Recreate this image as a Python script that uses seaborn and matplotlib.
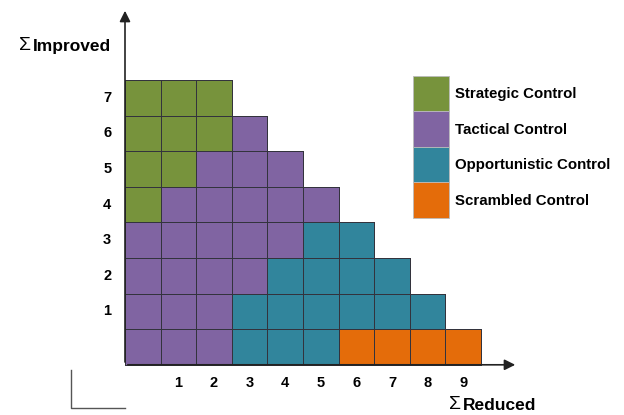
import numpy as np
import matplotlib
matplotlib.use("Agg")
import matplotlib.pyplot as plt
from matplotlib.colors import ListedColormap, to_rgba
from matplotlib.patches import Patch
import seaborn as sns

# rows from top (Improved = 7) to bottom (Improved = 0)
improved = [7, 6, 5, 4, 3, 2, 1, 0]
strategic = [3, 3, 2, 1, 0, 0, 0, 0]
tactical = [0, 1, 3, 5, 5, 4, 3, 3]
opportunistic = [0, 0, 0, 0, 2, 4, 6, 3]
scrambled = [0, 0, 0, 0, 0, 0, 0, 4]
reduced_ticks = [1, 2, 3, 4, 5, 6, 7, 8, 9]
improved_ticks = [1, 2, 3, 4, 5, 6, 7]
categories = ["Strategic Control", "Tactical Control",
              "Opportunistic Control", "Scrambled Control"]
colors = ["#77933C", "#8064A2", "#31859C", "#E46C0A"]

ncols = 10
grid = np.full((len(improved), ncols), np.nan)
for i in range(len(improved)):
    row = ([0] * strategic[i] + [1] * tactical[i]
           + [2] * opportunistic[i] + [3] * scrambled[i])
    grid[i, :len(row)] = row
empty = np.isnan(grid)

plt.rcParams['font.family'] = ['Liberation Sans', 'DejaVu Sans']

fig = plt.figure(figsize=(6.24, 4.15), dpi=100)
ax = fig.add_axes([0, 0, 1, 1])

sns.heatmap(grid, mask=empty, cmap=ListedColormap(colors),
            vmin=-0.5, vmax=3.5, cbar=False, linewidths=0.6,
            linecolor="#33333d", ax=ax)

# no outlines on the empty cells
mesh = ax.collections[0]
edge = np.array([to_rgba("#33333d")] * empty.size)
edge[empty.ravel()] = (0, 0, 0, 0)
mesh.set_edgecolors(edge)

# map cell units to the picture: cell = 35.6 px, origin at (125, 80)
cell = 35.6
ax.set_xlim(-125 / cell, (624 - 125) / cell)
ax.set_ylim((415 - 80) / cell, -80 / cell)
ax.axis("off")

nrows = len(improved)
# axes with arrows
ax.annotate("", xy=(0, -72 / cell), xytext=(0, nrows),
            arrowprops=dict(arrowstyle="-|>", color="#222222", lw=1.2,
                            mutation_scale=16))
ax.annotate("", xy=(393 / cell, nrows), xytext=(0, nrows),
            arrowprops=dict(arrowstyle="-|>", color="#222222", lw=1.2,
                            mutation_scale=16))

for v in reduced_ticks:
    ax.text(v + 0.5, nrows + 0.51, str(v), ha="center", va="center",
            fontsize=10.5, fontweight="bold")
for v in improved_ticks:
    ax.text(-0.5, improved.index(v) + 0.5, str(v), ha="center", va="center",
            fontsize=10.5, fontweight="bold")

# axis titles
fig.text(31 / 624, 1 - 45 / 415, "\u03a3", ha="right", va="center", fontsize=14)
fig.text(33 / 624, 1 - 46 / 415, "Improved", ha="left", va="center",
         fontsize=12.5, fontweight="bold")
fig.text(461 / 624, 1 - 404 / 415, "\u03a3", ha="right", va="center", fontsize=14)
fig.text(463 / 624, 1 - 405 / 415, "Reduced", ha="left", va="center",
         fontsize=12.5, fontweight="bold")

# little corner mark bottom left
fig.add_artist(plt.Line2D([71 / 624, 71 / 624, 125 / 624],
                          [1 - 370 / 415, 1 - 408 / 415, 1 - 408 / 415],
                          color="#555555", lw=1.0))

handles = [Patch(facecolor=c, edgecolor="#bbbbbb", lw=0.6) for c in colors]
fs = 10.8
fpx = fs * 100 / 72
hh = (35.5 / fpx - 0.245) / 0.65
ax.legend(handles, categories, loc="upper left",
          bbox_to_anchor=(413 / 624, 1 - 76 / 415), bbox_transform=fig.transFigure,
          frameon=False, borderpad=0, borderaxespad=0, labelspacing=0,
          handlelength=36 / fpx, handleheight=hh, handletextpad=6 / fpx,
          prop=dict(size=fs, weight="bold"))

fig.savefig("out.png", dpi=100)
